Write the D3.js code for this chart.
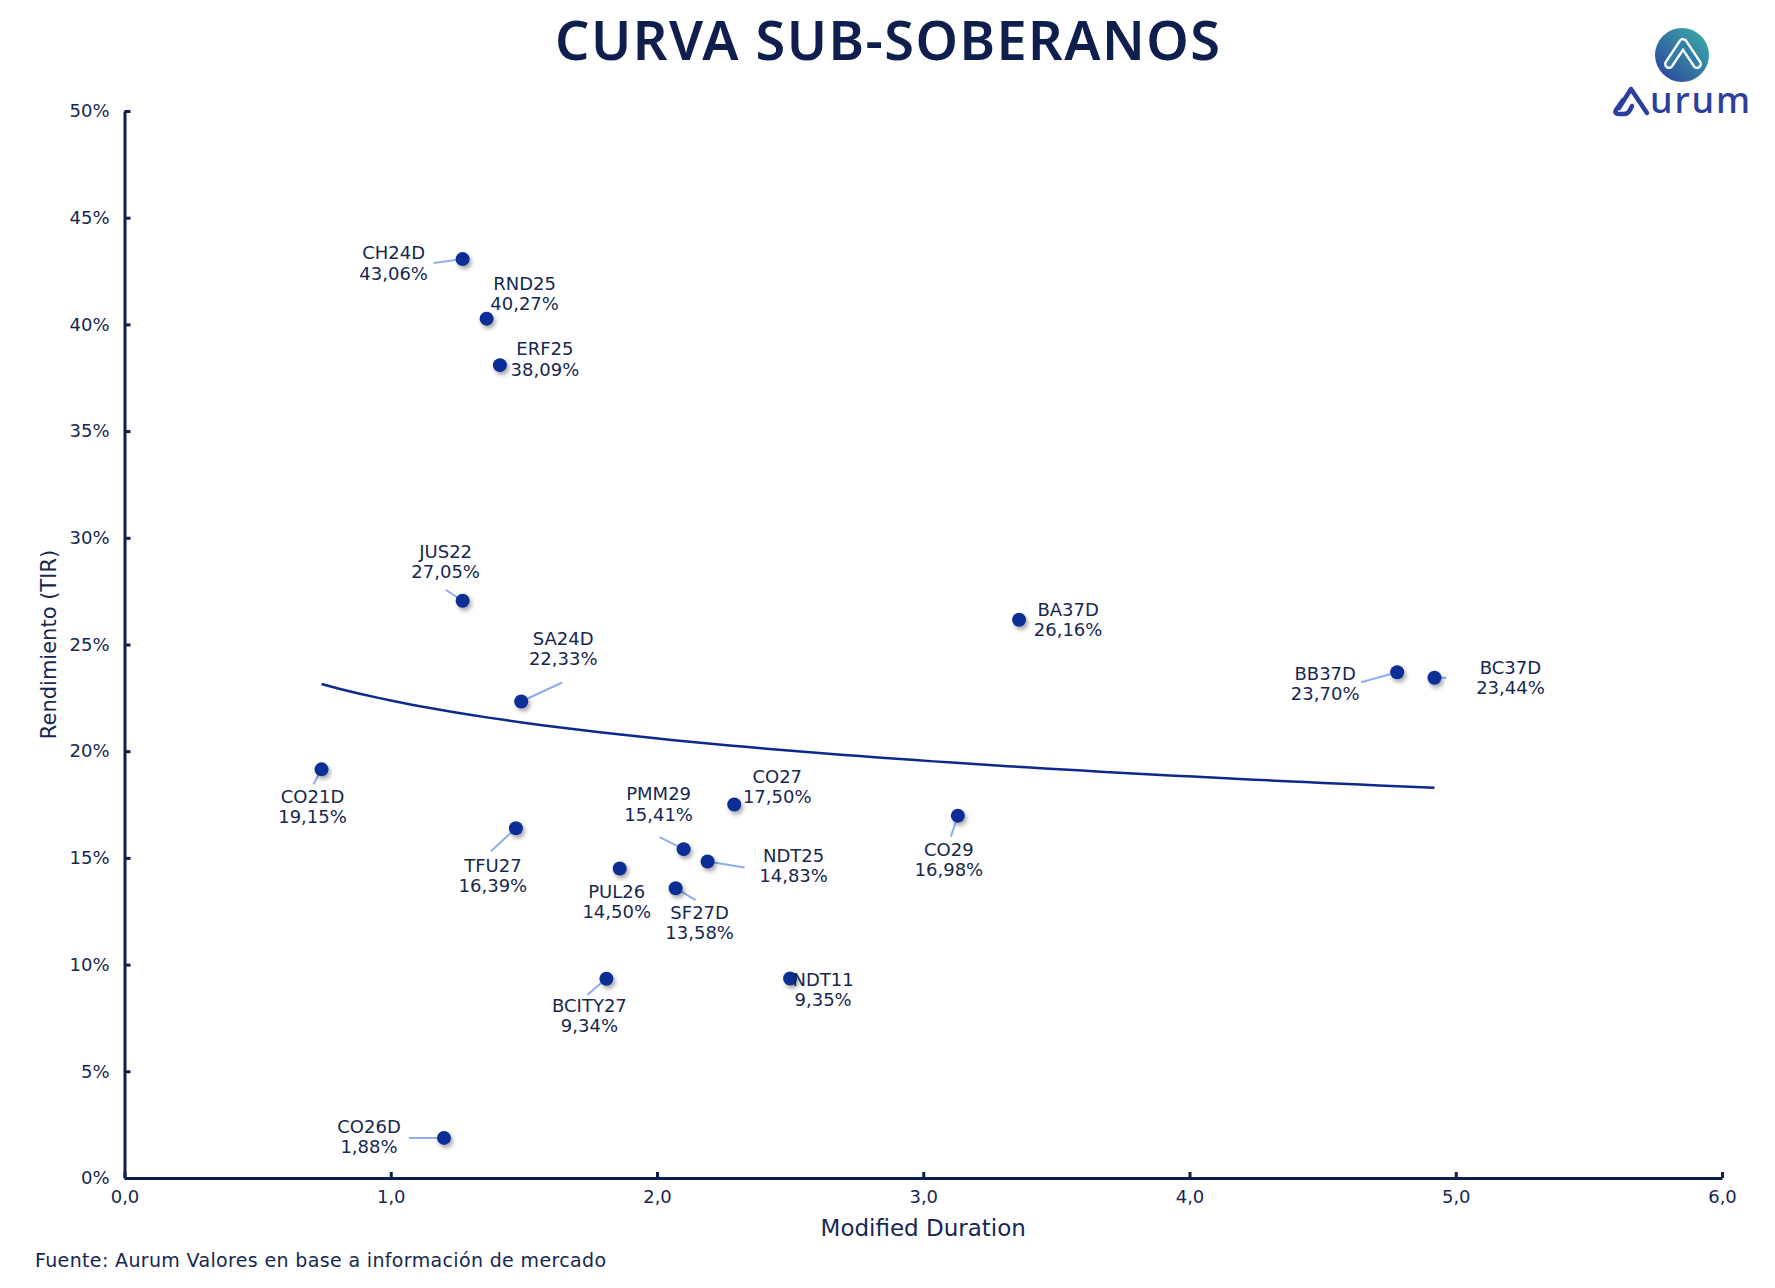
<!DOCTYPE html>
<html>
<head>
<meta charset="utf-8">
<script src="https://cdn.jsdelivr.net/npm/d3@7"></script>
<style>
  body { margin: 0; background: #ffffff; }
  text { font-family: "DejaVu Sans", sans-serif; fill: #16284f; }
</style>
</head>
<body>
<div id="chart"></div>
<script>
// bonos sub-soberanos: duration modificada y TIR (%)
var names = ["CH24D", "RND25", "ERF25", "JUS22", "SA24D", "CO21D", "TFU27", "PUL26", "PMM29", "NDT25",
             "SF27D", "CO27", "BCITY27", "NDT11", "CO26D", "BA37D", "CO29", "BB37D", "BC37D"];
var duration = [1.27, 1.36, 1.41, 1.27, 1.49, 0.74, 1.47, 1.86, 2.10, 2.19,
                 2.07, 2.29, 1.81, 2.50, 1.20, 3.36, 3.13, 4.78, 4.92];
var tir = [43.06, 40.27, 38.09, 27.05, 22.33, 19.15, 16.39, 14.50, 15.41, 14.83,
           13.58, 17.50, 9.34, 9.35, 1.88, 26.16, 16.98, 23.70, 23.44];
var xTicks = [0, 1, 2, 3, 4, 5, 6];
var yTicks = [0, 5, 10, 15, 20, 25, 30, 35, 40, 45, 50];

// label placement (px offsets from the point), and leader line start
var labelOffset = [[-69, -6], [38, -35], [45, -16], [-17, -49], [42, -63], [-9, 27], [-23, 37], [-3, 23], [-25, -55], [86, -6],
                   [24, 24], [43, -28], [-17, 27], [33, 1], [-75, -11], [49, -10], [-9, 34], [-72, 1], [76, -10]];
var leaderFrom = [[-29, 4], null, null, [-17, -11], [41, -19], [-8, 15], [-25, 23], null, [-24, -12], [37, 6],
                  [20, 12], null, [-19, 16], null, [-35, 0], null, [-7, 21], [-36, 10], [12, 0]];

var W = 1775, H = 1288;
var margin = {left: 124.5, right: 53, top: 111, bottom: 110};
var w = W - margin.left - margin.right, h = H - margin.top - margin.bottom;

var svg = d3.select("#chart").append("svg").attr("width", W).attr("height", H);

var defs = svg.append("defs");
var shadow = defs.append("filter").attr("id", "shadow")
    .attr("x", "-50%").attr("y", "-50%").attr("width", "200%").attr("height", "200%");
shadow.append("feDropShadow").attr("dx", 2).attr("dy", 3).attr("stdDeviation", 2)
    .attr("flood-color", "#000").attr("flood-opacity", 0.35);

var grad = defs.append("linearGradient").attr("id", "logoGrad")
    .attr("x1", "0%").attr("y1", "100%").attr("x2", "100%").attr("y2", "0%");
grad.append("stop").attr("offset", "0%").attr("stop-color", "#2b3f9e");
grad.append("stop").attr("offset", "100%").attr("stop-color", "#3bb3a6");

// title
svg.append("text")
  .attr("x", W / 2).attr("y", 60)
  .attr("text-anchor", "middle")
  .style("font-family", "'Noto Sans', sans-serif")
  .style("font-size", "54px").style("font-weight", "600")
  .style("fill", "#0e1f4e")
  .attr("textLength", 665)
  .text("CURVA SUB-SOBERANOS");

var g = svg.append("g").attr("transform", "translate(" + margin.left + "," + margin.top + ")");

var x = d3.scaleLinear().domain([0, 6]).range([0, w]);
var y = d3.scaleLinear().domain([0, 50]).range([h, 0]);

var xaxis = d3.axisBottom(x).tickValues(xTicks).tickSizeInner(-6).tickSizeOuter(0).tickPadding(12)
    .tickFormat(function(d) { return d3.format(".1f")(d).replace(".", ","); });
var yaxis = d3.axisLeft(y).tickValues(yTicks).tickSizeInner(-6).tickSizeOuter(0).tickPadding(15)
    .tickFormat(function(d) { return d + "%"; });

var gx = g.append("g").attr("transform", "translate(0," + h + ")").call(xaxis);
var gy = g.append("g").call(yaxis);
[gx, gy].forEach(function(a) {
  a.select(".domain").attr("stroke", "#0e1f4e").attr("stroke-width", 3);
  a.selectAll(".tick line").attr("stroke", "#0e1f4e").attr("stroke-width", 3);
  a.selectAll(".tick text").style("font-size", "18px").style("fill", "#16284f")
    .style("font-family", "'DejaVu Sans', sans-serif");
});

// axis titles
g.append("text")
  .attr("x", w / 2).attr("y", h + 58)
  .attr("text-anchor", "middle")
  .style("font-size", "23px")
  .text("Modified Duration");

g.append("text")
  .attr("transform", "translate(" + (49 - margin.left) + "," + (h / 2) + ")rotate(-90)")
  .attr("text-anchor", "middle")
  .attr("dy", "0.35em")
  .style("font-size", "21px")
  .text("Rendimiento (TIR)");

// logarithmic trendline fitted to the points (least squares on ln x)
var lx = duration.map(function(d) { return Math.log(d); });
var mL = d3.mean(lx), mY = d3.mean(tir);
var b = d3.sum(lx, function(d, i) { return (d - mL) * (tir[i] - mY); }) /
        d3.sum(lx, function(d) { return (d - mL) * (d - mL); });
var a = mY - b * mL;
var xmin = d3.min(duration), xmax = d3.max(duration);
var trend = d3.range(0, 61).map(function(i) {
  var xv = xmin + (xmax - xmin) * i / 60;
  return [xv, a + b * Math.log(xv)];
});

g.append("path")
  .datum(trend)
  .attr("fill", "none")
  .attr("stroke", "#0b2a8c")
  .attr("stroke-width", 2.5)
  .attr("d", d3.line().x(function(d) { return x(d[0]); }).y(function(d) { return y(d[1]); }));

// leader lines
var points = names.map(function(n, i) {
  return {name: n, dur: duration[i], tir: tir[i], off: labelOffset[i], lead: leaderFrom[i]};
});

g.append("g").selectAll("line")
  .data(points.filter(function(d) { return d.lead; }))
  .enter().append("line")
  .attr("x1", function(d) { return x(d.dur) + d.lead[0]; })
  .attr("y1", function(d) { return y(d.tir) + d.lead[1]; })
  .attr("x2", function(d) { return x(d.dur); })
  .attr("y2", function(d) { return y(d.tir); })
  .attr("stroke", "#8eaef0")
  .attr("stroke-width", 2);

// points
g.append("g").selectAll("circle")
  .data(points)
  .enter().append("circle")
  .attr("cx", function(d) { return x(d.dur); })
  .attr("cy", function(d) { return y(d.tir); })
  .attr("r", 7)
  .attr("fill", "#0a2e94")
  .attr("filter", "url(#shadow)");

// labels
var lab = g.append("g").selectAll("text")
  .data(points)
  .enter().append("text")
  .attr("text-anchor", "middle")
  .style("font-size", "18px")
  .attr("transform", function(d) {
    return "translate(" + (x(d.dur) + d.off[0]) + "," + (y(d.tir) + d.off[1]) + ")";
  });
lab.append("tspan").attr("x", 0).attr("dy", "0.35em").text(function(d) { return d.name; });
lab.append("tspan").attr("x", 0).attr("dy", "1.12em")
  .text(function(d) { return d3.format(".2f")(d.tir).replace(".", ",") + "%"; });

// source
svg.append("text")
  .attr("x", 35).attr("y", 1267)
  .style("font-size", "19px")
  .attr("textLength", 571)
  .text("Fuente: Aurum Valores en base a información de mercado");

// logo
var logo = svg.append("g");
logo.append("circle").attr("cx", 1682).attr("cy", 55).attr("r", 27).attr("fill", "url(#logoGrad)");
logo.append("path")
  .attr("d", "M1669,64 L1683,43 L1697,64")
  .attr("fill", "none").attr("stroke", "#ffffff").attr("stroke-width", 10)
  .attr("stroke-linecap", "round").attr("stroke-linejoin", "round");
logo.append("path")
  .attr("d", "M1669,64 L1683,43 L1697,64")
  .attr("fill", "none").attr("stroke", "#2f7fa8").attr("stroke-width", 5)
  .attr("stroke-linecap", "round").attr("stroke-linejoin", "round");
logo.append("path")
  .attr("d", "M1623,100 L1616,110 Q1614,114 1619,114 L1624,114 Q1628,114 1630,110 L1632,106 M1619,108 L1631,89 L1647,113")
  .attr("fill", "none").attr("stroke", "#2b3f9e").attr("stroke-width", 4.5)
  .attr("stroke-linecap", "round").attr("stroke-linejoin", "round");
logo.append("text")
  .attr("x", 1650).attr("y", 113)
  .attr("textLength", 100)
  .style("font-family", "'Noto Sans', sans-serif")
  .style("font-size", "36px").style("font-weight", "500")
  .style("fill", "#2b3f9e")
  .text("urum");
</script>
</body>
</html>
